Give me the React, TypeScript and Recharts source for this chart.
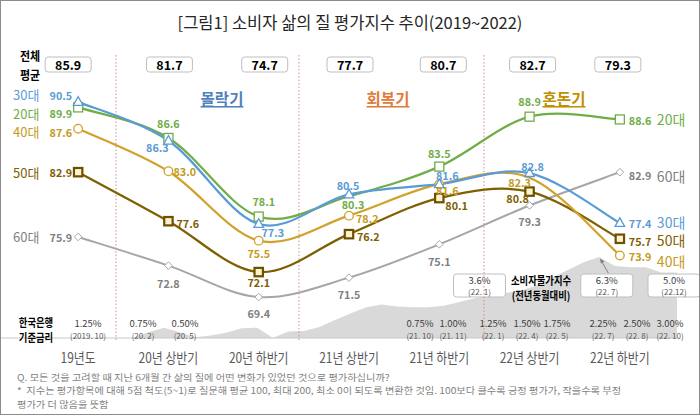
import React from 'react';
import {
  ComposedChart,
  LineChart,
  Line,
  Area,
  XAxis,
  YAxis,
  ReferenceLine,
  ReferenceDot,
  LabelList,
} from 'recharts';

const FONT = "'Noto Sans CJK KR', 'Noto Sans', sans-serif";

// ---------------- data ----------------
const categories = ['19년도', '20년 상반기', '20년 하반기', '21년 상반기', '21년 하반기', '22년 상반기', '22년 하반기'];
const overallAvg = [85.9, 81.7, 74.7, 77.7, 80.7, 82.7, 79.3];
const age20 = [89.9, 86.6, 78.1, 80.3, 83.5, 88.9, 88.6];
const age30 = [90.5, 86.3, 77.3, 80.5, 81.6, 82.8, 77.4];
const age40 = [87.6, 83.0, 75.5, 78.2, 81.6, 82.3, 73.9];
const age50 = [82.9, 77.6, 72.1, 76.2, 80.1, 80.8, 75.7];
const age60 = [75.9, 72.8, 69.4, 71.5, 75.1, 79.3, 82.9];
const phaseLabels = ['몰락기', '회복기', '혼돈기'];

const cpiMonths = [
  '20.1', '20.2', '20.3', '20.4', '20.5', '20.6', '20.7', '20.8', '20.9', '20.10', '20.11', '20.12',
  '21.1', '21.2', '21.3', '21.4', '21.5', '21.6', '21.7', '21.8', '21.9', '21.10', '21.11', '21.12',
  '22.1', '22.2', '22.3', '22.4', '22.5', '22.6', '22.7', '22.8', '22.9', '22.10', '22.11', '22.12',
];
const cpiValues = [
  0.0, 0.45, 0.8, 0.45, 0.05, 0.2, 0.4, 0.75, 0.8, 0.0, 0.5, 0.55,
  0.85, 1.4, 1.9, 2.4, 2.6, 2.45, 2.4, 2.4, 2.5, 2.8, 3.1, 3.3,
  3.5, 3.7, 4.1, 4.7, 5.3, 5.9, 6.3, 5.6, 5.5, 5.5, 5.1, 5.1,
];
const cpiCalloutMonths = ['22.1', '22.7', '22.12'];
const cpiCalloutValues = [3.6, 6.3, 5.0];
const cpiCalloutDates = ['(22. 1)', '(22. 7)', '(22.12)'];

const rateValues = ['1.25%', '0.75%', '0.50%', '0.75%', '1.00%', '1.25%', '1.50%', '1.75%', '2.25%', '2.50%', '3.00%'];
const rateDates = ['(2019. 10)', '(20. 2)', '(20. 5)', '(21. 10)', '(21. 11)', '(22. 1)', '(22. 4)', '(22. 5)', '(22. 7)', '(22. 8)', '(22. 10)'];

const titleText = '[그림1] 소비자 삶의 질 평가지수 추이(2019~2022)';
const footnotes = [
  'Q. 모든 것을 고려할 때 지난 6개월 간 삶의 질에 어떤 변화가 있었던 것으로 평가하십니까?',
  '*  지수는 평가항목에 대해 5점 척도(5~1)로 질문해 평균 100, 최대 200, 최소 0이 되도록 변환한 것임. 100보다 클수록 긍정 평가가, 작을수록 부정',
  '평가가 더 많음을 뜻함',
];

// ---------------- layout / styles ----------------
const rateX = [88, 143, 185, 420, 453, 493, 527, 557, 603, 637, 670];
const phaseX = [222, 388, 564];
const phaseColors = ['#4F81BD', '#E07B39', '#BF9000'];
const dividerX = [0.419, 2.446, 4.495];
const avgBoxDx = [-10, 1, 6, 1, 4, 3, -2];
const calloutDx = [-26.5, 7.5, -3];

const mainData = categories.map((c, i) => ({
  i,
  cat: c,
  avg: overallAvg[i],
  a20: age20[i],
  a30: age30[i],
  a40: age40[i],
  a50: age50[i],
  a60: age60[i],
}));
const cpiData = cpiMonths.map((m, i) => ({ i, m, v: cpiValues[i] }));

type Anchor = 'start' | 'middle' | 'end';
type Series = {
  key: string;
  name: string;
  line: string;
  text: string;
  width: number;
  marker: string;
  hide: number[];
  offs: [number, number, Anchor][];
  rightDy: number;
};

const series: Series[] = [
  {
    key: 'a60', name: '60대', line: '#A6A6A6', text: '#7F7F7F', width: 2, marker: 'dia', hide: [],
    offs: [[-6, 0, 'end'], [0, 17, 'middle'], [0, 16, 'middle'], [0, 16, 'middle'], [0, 17, 'middle'], [0, 16, 'middle'], [9, 3, 'start']],
    rightDy: 4,
  },
  {
    key: 'a50', name: '50대', line: '#7F6000', text: '#7F6000', width: 2.25, marker: 'sq2', hide: [],
    offs: [[-6, 0, 'end'], [8, 2, 'start'], [0, 10, 'middle'], [8, 2, 'start'], [6, 7, 'start'], [-12, 6, 'middle'], [9, 2, 'start']],
    rightDy: 1.5,
  },
  {
    key: 'a40', name: '40대', line: '#D1A12B', text: '#C49A22', width: 2.25, marker: 'circ', hide: [5],
    offs: [[-6, 3, 'end'], [5, 0, 'start'], [0, 12, 'middle'], [7, 2, 'start'], [8, 6, 'middle'], [-10, 4, 'middle'], [9, 1, 'start']],
    rightDy: 5.5,
  },
  {
    key: 'a20', name: '20대', line: '#70AD47', text: '#70AD47', width: 2.25, marker: 'sq', hide: [3],
    offs: [[-6, 6, 'end'], [0, -15, 'middle'], [5, -16, 'middle'], [4, 8, 'middle'], [0, -14, 'middle'], [0, -16, 'middle'], [9, 1, 'start']],
    rightDy: 0,
  },
  {
    key: 'a30', name: '30대', line: '#5B9BD5', text: '#5B9BD5', width: 2.25, marker: 'tri', hide: [],
    offs: [[-6, -7, 'end'], [-11, 6, 'middle'], [14, 8, 'middle'], [-1, -9, 'middle'], [8, -9, 'middle'], [3, -7, 'middle'], [9, 0, 'start']],
    rightDy: -1.5,
  },
];

// Catmull-Rom style smoothing (like spreadsheet smoothed lines)
const smoothCurve: any = (context: any) => {
  let pts: [number, number][] = [];
  return {
    areaStart() {},
    areaEnd() {},
    lineStart() {
      pts = [];
    },
    point(x: number, y: number) {
      pts.push([+x, +y]);
    },
    lineEnd() {
      const n = pts.length;
      if (!n) return;
      context.moveTo(pts[0][0], pts[0][1]);
      for (let i = 0; i < n - 1; i++) {
        const p0 = pts[Math.max(i - 1, 0)];
        const p1 = pts[i];
        const p2 = pts[i + 1];
        const p3 = pts[Math.min(i + 2, n - 1)];
        const c1x = p1[0] + (p2[0] - p0[0]) / 6;
        const c1y = p1[1] + (p2[1] - p0[1]) / 6;
        const c2x = p2[0] - (p3[0] - p1[0]) / 6;
        const c2y = p2[1] - (p3[1] - p1[1]) / 6;
        context.bezierCurveTo(c1x, c1y, c2x, c2y, p2[0], p2[1]);
      }
    },
  };
};

const ST = ({ x, y, sx = 1, size, fill, anchor = 'middle', weight = 400, underline, children }: any) => (
  <text
    transform={`translate(${x},${y}) scale(${sx},1)`}
    textAnchor={anchor}
    dominantBaseline="central"
    fontSize={size}
    fill={fill}
    fontWeight={weight}
    fontFamily={FONT}
    textDecoration={underline ? 'underline' : undefined}
    style={{ whiteSpace: 'pre' }}
  >
    {children}
  </text>
);

function makeDot(kind: string, color: string, hide: number[]) {
  return (p: any) => {
    const { cx, cy, index } = p;
    const k = `dot-${kind}-${index}`;
    if (cx == null || cy == null || hide.includes(index)) return <g key={k} />;
    switch (kind) {
      case 'tri':
        return <path key={k} d={`M${cx},${cy - 5.2} L${cx + 4.8},${cy + 3.4} L${cx - 4.8},${cy + 3.4}Z`} fill="#fff" stroke={color} strokeWidth={1.3} />;
      case 'sq':
        return <rect key={k} x={cx - 4.5} y={cy - 4.5} width={9} height={9} fill="#fff" stroke={color} strokeWidth={1.3} />;
      case 'circ':
        return <circle key={k} cx={cx} cy={cy} r={4.3} fill="#fff" stroke={color} strokeWidth={1.3} />;
      case 'sq2':
        return <rect key={k} x={cx - 4.2} y={cy - 4.2} width={8.4} height={8.4} fill="#FFF2CC" stroke={color} strokeWidth={2.2} />;
      default:
        return <path key={k} d={`M${cx},${cy - 3.8} L${cx + 3.8},${cy} L${cx},${cy + 3.8} L${cx - 3.8},${cy}Z`} fill="#fff" stroke={color} strokeWidth={1} />;
    }
  };
}

function makeLabel(s: Series) {
  return (p: any) => {
    const { x, y, value, index } = p;
    if (x == null || y == null || value == null) return null;
    const [dx, dy, anchor] = s.offs[index];
    return (
      <g key={`lbl-${s.key}-${index}`}>
        <ST x={x + dx} y={y + dy} size={10.8} weight={700} fill={s.text} anchor={anchor}>
          {Number(value).toFixed(1)}
        </ST>
        {index === 0 && (
          <ST x={13} y={y + dy} size={13} fill={s.text} anchor="start">
            {s.name}
          </ST>
        )}
        {index === categories.length - 1 && (
          <ST x={x + 37} y={y + s.rightDy} size={14} fill={s.text} anchor="start">
            {s.name}
          </ST>
        )}
      </g>
    );
  };
}

const AvgBox = (p: any) => {
  const { x, value, index } = p;
  if (x == null) return null;
  const cx = x + avgBoxDx[index];
  return (
    <g key={`avg-${index}`}>
      <rect x={cx - 23} y={57} width={46} height={15} rx={3} fill="#fff" stroke="#BFBFBF" strokeWidth={1} />
      <ST x={cx} y={64.5} size={12.5} weight={700} fill="#000">
        {Number(value).toFixed(1)}
      </ST>
    </g>
  );
};

const CategoryTick = (p: any) => {
  const { x, payload } = p;
  return (
    <ST x={x} y={357} sx={0.85} size={14} fill="#595959">
      {categories[payload.value]}
    </ST>
  );
};

const makeCallout = (k: number) => (p: any) => {
  const { cx, cy } = p;
  if (cx == null) return <g />;
  const bx = cx + calloutDx[k];
  return (
    <g>
      {k === 1 && (
        <g>
          <line x1={cx + 9} y1={273} x2={cx + 1.5} y2={cy + 3} stroke="#808080" strokeWidth={1} />
          <path d={`M${cx + 0.8},${cy + 1.5} L${cx + 5.2},${cy + 4.5} L${cx + 1.6},${cy + 6.5}Z`} fill="#808080" />
        </g>
      )}
      <rect x={bx - 26} y={274} width={52} height={23} rx={3} fill="#fff" stroke="#BFBFBF" strokeWidth={1} />
      <ST x={bx} y={280} size={9.5} fill="#404040">
        {`${cpiCalloutValues[k].toFixed(1)}%`}
      </ST>
      <ST x={bx} y={291.5} size={8} fill="#595959">
        {cpiCalloutDates[k]}
      </ST>
    </g>
  );
};

export default function App() {
  return (
    <div style={{ position: 'absolute', left: 0, top: 0, width: 700, height: 415, background: '#fff', overflow: 'hidden', fontFamily: FONT }}>
      {/* CPI background area */}
      <div style={{ position: 'absolute', left: 0, top: 0 }}>
        <ComposedChart width={700} height={415} data={cpiData} margin={{ top: 248, right: 23, bottom: 77, left: 0 }}>
          <XAxis type="number" dataKey="i" domain={[-8.548, 35]} allowDataOverflow hide />
          <YAxis type="number" domain={[0, 7]} allowDataOverflow hide />
          <Area type="linear" dataKey="v" fill="#D9D9D9" fillOpacity={1} stroke="none" isAnimationActive={false} />
          <ReferenceLine y={0} stroke="#C8C8C8" strokeWidth={1} ifOverflow="visible" />
          {cpiCalloutMonths.map((m, k) => (
            <ReferenceDot
              key={m}
              x={cpiMonths.indexOf(m)}
              y={cpiCalloutValues[k]}
              r={0}
              ifOverflow="visible"
              shape={makeCallout(k)}
            />
          ))}
        </ComposedChart>
      </div>

      {/* static texts */}
      <svg width={700} height={415} style={{ position: 'absolute', left: 0, top: 0 }}>
        <ST x={350} y={22} size={16.5} fill="#262626">{titleText}</ST>
        <ST x={30} y={55} sx={0.88} size={12.5} weight={700} fill="#000">전체</ST>
        <ST x={30} y={74} sx={0.88} size={12.5} weight={700} fill="#000">평균</ST>
        {phaseLabels.map((t, k) => (
          <ST key={t} x={phaseX[k]} y={98} size={15.5} weight={700} fill={phaseColors[k]} underline>
            {t}
          </ST>
        ))}
        <ST x={36} y={322} sx={0.85} size={11} weight={700} fill="#000">한국은행</ST>
        <ST x={36} y={337} sx={0.85} size={11} weight={700} fill="#000">기준금리</ST>
        {rateValues.map((r, k) => (
          <g key={`rate-${k}`}>
            <ST x={rateX[k]} y={322.5} size={9.5} fill="#404040">{r}</ST>
            <ST x={rateX[k]} y={335} size={8} fill="#595959">{rateDates[k]}</ST>
          </g>
        ))}
        <ST x={541} y={280} sx={0.85} size={11} weight={700} fill="#000">소비자물가지수</ST>
        <ST x={541} y={295} sx={0.85} size={11} weight={700} fill="#000">(전년동월대비)</ST>
        {footnotes.map((t, k) => (
          <ST key={`fn-${k}`} x={17} y={377 + k * 13.5} sx={1.1} size={9.3} fill="#7F7F7F" anchor="start">
            {t}
          </ST>
        ))}
      </svg>

      {/* main line chart */}
      <div style={{ position: 'absolute', left: 0, top: 0 }}>
        <LineChart width={700} height={415} data={mainData} margin={{ top: 51, right: 35, bottom: 1, left: 33 }}>
          <XAxis
            type="number"
            dataKey="i"
            domain={[-0.5, 6.5]}
            ticks={[0, 1, 2, 3, 4, 5, 6]}
            interval={0}
            height={30}
            axisLine={false}
            tickLine={false}
            tick={<CategoryTick />}
            allowDataOverflow
          />
          <YAxis type="number" domain={[60, 96]} allowDataOverflow hide />
          {dividerX.map((x) => (
            <ReferenceLine
              key={`div-${x}`}
              segment={[{ x, y: 64.75 }, { x, y: 95.6 }]}
              stroke="#D38A8A"
              strokeWidth={1}
              strokeDasharray="1.5 2"
              ifOverflow="visible"
            />
          ))}
          <Line dataKey="avg" stroke="none" dot={false} activeDot={false} isAnimationActive={false} legendType="none">
            <LabelList dataKey="avg" content={AvgBox} />
          </Line>
          {series.map((s) => (
            <Line
              key={s.key}
              dataKey={s.key}
              type={smoothCurve}
              stroke={s.line}
              strokeWidth={s.width}
              dot={makeDot(s.marker, s.line === '#7F6000' ? '#6B5000' : s.line, s.hide)}
              activeDot={false}
              isAnimationActive={false}
            >
              <LabelList dataKey={s.key} content={makeLabel(s)} />
            </Line>
          ))}
        </LineChart>
      </div>

      <div style={{ position: 'absolute', left: 0, top: 0, width: 700, height: 415, boxSizing: 'border-box', border: '1px solid #8C8C8C', pointerEvents: 'none' }} />
    </div>
  );
}
